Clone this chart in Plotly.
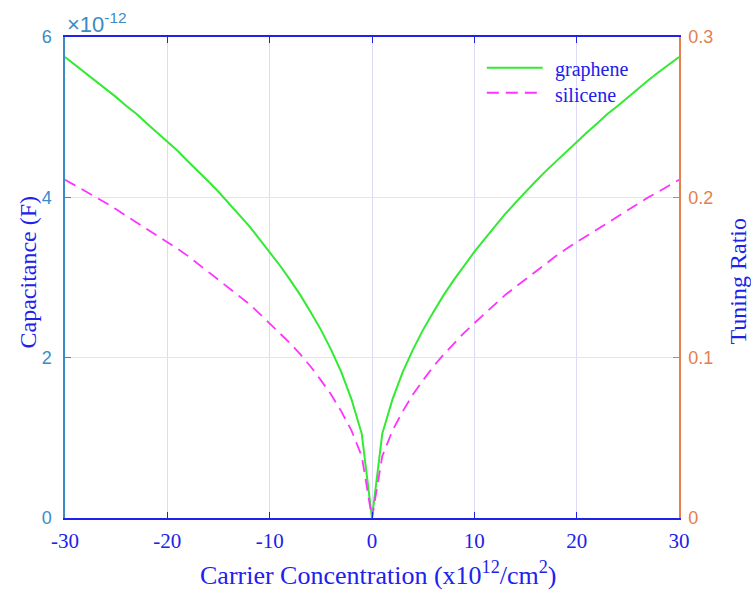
import plotly.graph_objects as go

# Carrier concentration (x10^12 /cm^2)
carrier = list(range(-30, 31))

# Capacitance values in units of 1e-12 F, for |n| = 0..30
graphene_half = [0.00, 1.05, 1.48, 1.82, 2.10, 2.35, 2.57, 2.78, 2.97, 3.15, 3.32,
                 3.48, 3.64, 3.79, 3.93, 4.07, 4.20, 4.33, 4.45, 4.58, 4.70,
                 4.81, 4.92, 5.04, 5.14, 5.25, 5.35, 5.46, 5.56, 5.65, 5.75]
silicene_half = [0.00, 0.77, 1.09, 1.33, 1.54, 1.72, 1.89, 2.04, 2.18, 2.31, 2.43,
                 2.55, 2.67, 2.78, 2.88, 2.98, 3.08, 3.17, 3.27, 3.36, 3.44,
                 3.53, 3.61, 3.69, 3.77, 3.85, 3.93, 4.00, 4.07, 4.15, 4.22]

graphene = graphene_half[:0:-1] + graphene_half
silicene = silicene_half[:0:-1] + silicene_half

series_names = ["graphene", "silicene"]

x_ticks = [-30, -20, -10, 0, 10, 20, 30]
x_ticktext = ["-30", "-20", "-10", "0", "10", "20", "30"]
y_ticks = [0, 2, 4, 6]
y2_ticks = [0, 0.1, 0.2, 0.3]
y2_ticktext = ["0", "0.1", "0.2", "0.3"]

BLUE = "#2121EC"
LBLUE = "#3A8BC6"
ORANGE = "#E3804F"
GREEN = "#33EA33"
MAGENTA = "#FF33FF"
SERIF = "Liberation Serif, Times New Roman, serif"
SANS = "Liberation Sans, Arial, sans-serif"
DASH = "12px,7px"

fig = go.Figure()
fig.add_trace(go.Scatter(x=carrier, y=graphene, mode="lines", name=series_names[0],
                         line=dict(color=GREEN, width=2)))
fig.add_trace(go.Scatter(x=carrier, y=silicene, mode="lines", name=series_names[1],
                         line=dict(color=MAGENTA, width=1.8, dash=DASH)))
fig.add_trace(go.Scatter(x=[0], y=[0], mode="markers", yaxis="y2",
                         marker=dict(opacity=0), showlegend=False, hoverinfo="skip"))

# legend drawn in paper coordinates (long line samples as in the reference)
leg_x0, leg_x1, leg_tx = 0.687, 0.778, 0.795
leg_ys = [0.936, 0.884]
shapes = []
annotations = []
for name, yy, col, dash in zip(series_names, leg_ys, [GREEN, MAGENTA], ["solid", DASH]):
    shapes.append(dict(type="line", xref="paper", yref="paper",
                       x0=leg_x0, x1=leg_x1, y0=yy, y1=yy,
                       line=dict(color=col, width=2, dash=dash)))
    annotations.append(dict(text=name, xref="paper", yref="paper", x=leg_tx, y=yy,
                            xanchor="left", yanchor="middle", showarrow=False,
                            yshift=-2,
                            font=dict(family=SERIF, size=20, color=BLUE)))

annotations += [
    dict(text="×10<sup>-12</sup>", xref="paper", yref="paper", x=0.0, y=1.0,
         xanchor="left", yanchor="bottom", showarrow=False, yshift=-2,
         font=dict(family=SANS, size=22, color=LBLUE)),
    dict(text="Carrier Concentration (x10<sup>12</sup>/cm<sup>2</sup>)",
         xref="paper", yref="paper", x=0.5, y=0, xanchor="center", yanchor="middle",
         yshift=-55, xshift=6, showarrow=False,
         font=dict(family=SERIF, size=26, color=BLUE)),
    dict(text="Capacitance (F)", xref="paper", yref="paper", x=0, y=0.5,
         xanchor="center", yanchor="middle", xshift=-38, yshift=5, textangle=-90,
         showarrow=False, font=dict(family=SERIF, size=24, color=BLUE)),
    dict(text="Tuning Ratio", xref="paper", yref="paper", x=1, y=0.5,
         xanchor="center", yanchor="middle", xshift=58, yshift=-4, textangle=-90,
         showarrow=False, font=dict(family=SERIF, size=24, color=BLUE)),
]

fig.update_layout(
    width=751, height=591,
    margin=dict(l=65, r=72, t=37, b=73),
    paper_bgcolor="white", plot_bgcolor="white",
    showlegend=False,
    xaxis=dict(range=[-30, 30], tickvals=x_ticks, ticktext=x_ticktext,
               ticks="inside", ticklen=6, tickcolor=BLUE,
               showline=True, linecolor=BLUE, linewidth=1.5, mirror="ticks",
               showgrid=True, gridcolor="#DCDCF7", gridwidth=1,
               zeroline=False, ticklabelstandoff=3,
               tickfont=dict(family=SERIF, size=21, color=BLUE)),
    yaxis=dict(range=[0, 6], tickvals=y_ticks,
               ticks="inside", ticklen=6, tickcolor=LBLUE,
               showline=True, linecolor=LBLUE, linewidth=1.5,
               showgrid=True, gridcolor="#DDE6F2", gridwidth=1,
               zeroline=False, ticklabelstandoff=8,
               tickfont=dict(family=SANS, size=18, color=LBLUE)),
    yaxis2=dict(range=[0, 0.3], tickvals=y2_ticks, ticktext=y2_ticktext,
                overlaying="y", side="right",
                ticks="inside", ticklen=6, tickcolor=ORANGE,
                showline=True, linecolor=ORANGE, linewidth=1.5,
                showgrid=False, zeroline=False, ticklabelstandoff=4,
                tickfont=dict(family=SANS, size=18, color=ORANGE)),
    shapes=shapes,
    annotations=annotations,
)

fig.write_html("out.html", config={"displayModeBar": False},
               post_script="document.body.style.margin='0px';document.body.style.overflow='hidden';")
